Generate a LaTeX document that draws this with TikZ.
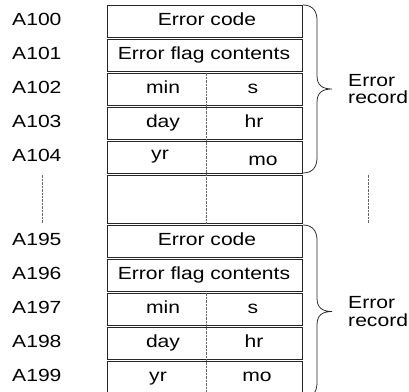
\documentclass[tikz,border=0pt]{standalone}
\usepackage{fontspec}
\setmainfont{Liberation Sans}[FakeStretch=1.2]
\usepackage{tikz}
\usetikzlibrary{calc}
\newcommand{\fs}{\fontsize{15}{15}\selectfont}
\tikzset{
  cell/.style={draw=black!85,line width=0.65pt,minimum width=58.5mm,minimum height=9.6mm,inner sep=0pt},
  addr/.style={anchor=west,inner sep=0pt,text height=0.716em,text depth=0pt},
  txt/.style={inner sep=0pt,text height=0.716em,text depth=0pt},
  div/.style={draw=black!60,line width=0.5pt,dash pattern=on 0.6pt off 0.6pt},
  brc/.style={draw=black!85,line width=0.65pt},
  rec/.style={anchor=west,align=left,inner sep=0pt}
}
\begin{document}
\begin{tikzpicture}[font=\fs]
\newcommand{\recbrace}[3]{\coordinate (#1t) at (9.09,#2); \coordinate (#1b) at (9.09,#3);
  \coordinate (#1) at ($(#1t)!0.5!(#1b)+(0.87,0)$);
  \draw[brc] (#1t) .. controls +(0.3,0) and +(0,0.25) .. ($(#1t)+(0.42,-0.45)$) -- ($(#1)+(-0.45,0.4)$) .. controls +(0,-0.28) and +(-0.3,0) .. (#1) .. controls +(-0.3,0) and +(0,0.28) .. ($(#1)+(-0.45,-0.4)$) -- ($(#1b)+(0.42,0.45)$) .. controls +(0,-0.25) and +(0.3,0) .. (#1b);}
\useasboundingbox (0,0) rectangle (12.27,-11.76);
\coordinate (mid) at (6.18,0);
\coordinate (lft) at (1.26,0);
\coordinate (rgt) at (11.04,0);
% first record
\node[cell] (ec1) at (6.135,-0.63) {};
\node[cell] (fl1) at (6.135,-1.65) {};
\node[cell] (mn1) at (6.135,-2.67) {};
\node[cell] (dy1) at (6.135,-3.69) {};
\node[cell] (yr1) at (6.135,-4.71) {};
\node[cell,minimum height=14.4mm] (bl) at (6.135,-5.97) {};
\node[txt] (ec1t) at (6.21,-0.63) {Error code};
\node[txt] (fl1t) at (6.12,-1.65) {Error flag contents};
\node[txt] (mn1l) at (4.89,-2.67) {min};
\node[txt] (mn1r) at (7.59,-2.67) {s};
\node[txt] (dy1l) at (4.89,-3.69) {day};
\node[txt] (dy1r) at (7.62,-3.69) {hr};
\node[txt] (yr1l) at (4.8,-4.65) {yr};
\node[txt] (yr1r) at (7.89,-4.83) {mo};
\node[addr] (a100) at (0.36,-0.63) {A100};
\node[addr] (a101) at (0.36,-1.65) {A101};
\node[addr] (a102) at (0.36,-2.67) {A102};
\node[addr] (a103) at (0.36,-3.69) {A103};
\node[addr] (a104) at (0.36,-4.71) {A104};
\draw[div] (mn1.north -| mid) -- (bl.south -| mid);
\draw[div] (bl.north -| lft) -- (bl.south -| lft);
\draw[div] (bl.north -| rgt) -- (bl.south -| rgt);
\recbrace{b1}{-0.15}{-5.19}
\node[rec] (rec1) at ($(b1)+(0.48,0)$) {Error\\record};
% last record
\node[cell] (ec2) at (6.135,-7.23) {};
\node[cell] (fl2) at (6.135,-8.25) {};
\node[cell] (mn2) at (6.135,-9.27) {};
\node[cell] (dy2) at (6.135,-10.29) {};
\node[cell] (yr2) at (6.135,-11.31) {};
\node[txt] (ec2t) at (6.21,-7.23) {Error code};
\node[txt] (fl2t) at (6.12,-8.25) {Error flag contents};
\node[txt] (mn2l) at (4.89,-9.27) {min};
\node[txt] (mn2r) at (7.59,-9.27) {s};
\node[txt] (dy2l) at (4.89,-10.29) {day};
\node[txt] (dy2r) at (7.62,-10.29) {hr};
\node[txt] (yr2l) at (4.74,-11.31) {yr};
\node[txt] (yr2r) at (7.71,-11.31) {mo};
\node[addr] (a195) at (0.36,-7.23) {A195};
\node[addr] (a196) at (0.36,-8.25) {A196};
\node[addr] (a197) at (0.36,-9.27) {A197};
\node[addr] (a198) at (0.36,-10.29) {A198};
\node[addr] (a199) at (0.36,-11.31) {A199};
\draw[div] (mn2.north -| mid) -- (yr2.south -| mid);
\recbrace{b2}{-6.75}{-11.94}
\node[rec] (rec2) at ($(b2)+(0.48,0)$) {Error\\record};
\end{tikzpicture}
\end{document}
